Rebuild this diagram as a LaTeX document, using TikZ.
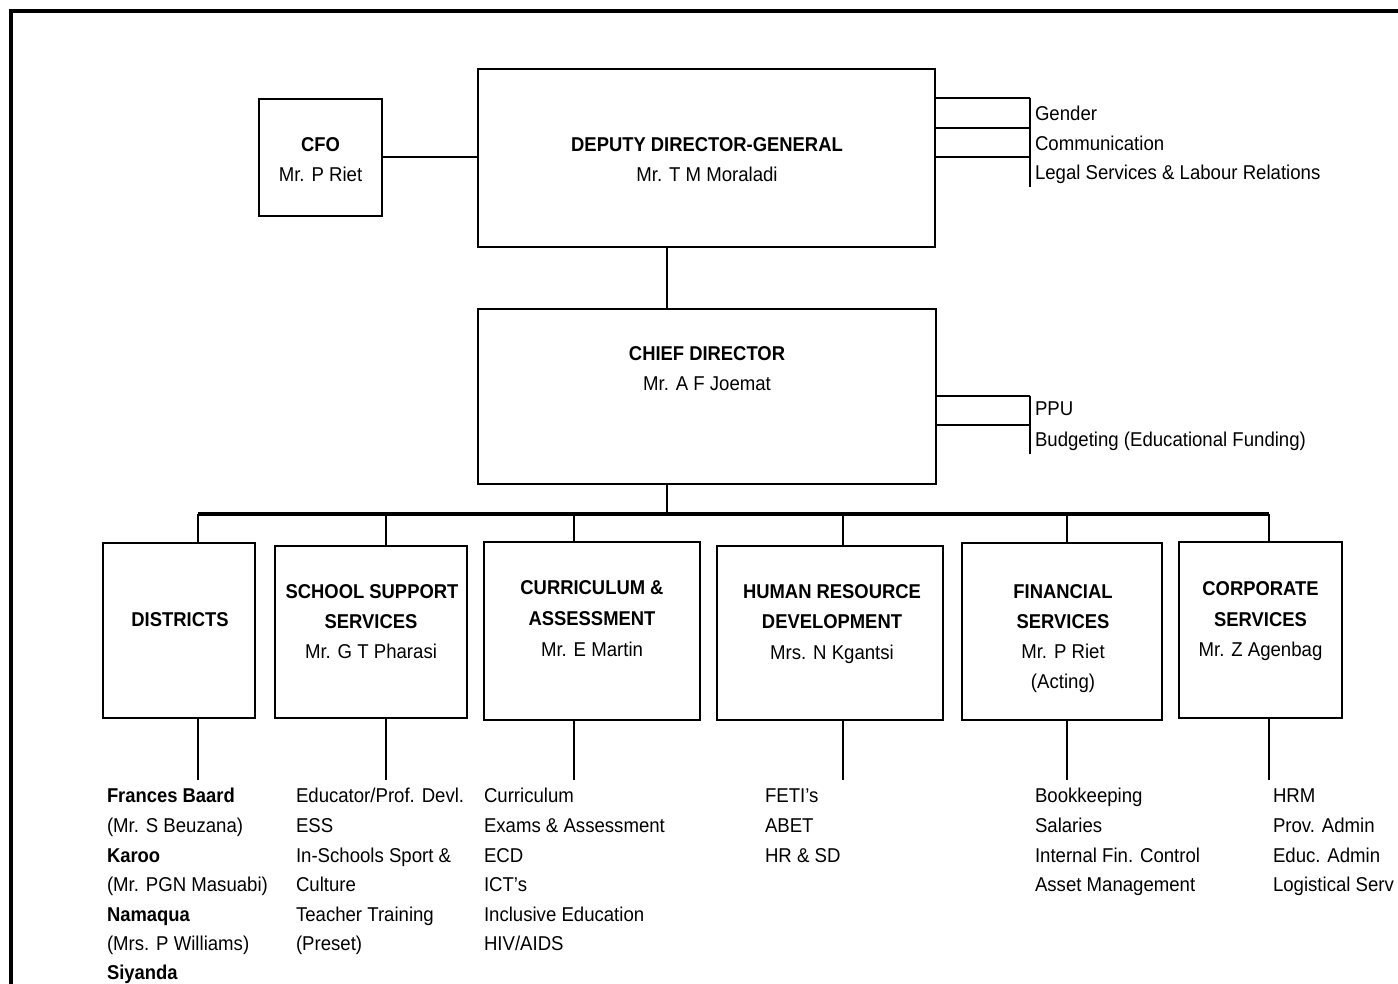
\documentclass[tikz,border=0pt]{standalone}
\usepackage{fontspec}
\setmainfont{Liberation Sans}[FakeStretch=0.93, BoldFeatures={FakeStretch=0.92}]
\begin{document}
\begin{tikzpicture}[x=1pt,y=-1pt,
  every node/.style={font=\fontsize{20}{29.6}\selectfont, inner sep=0pt, outer sep=0pt},
  box/.style={draw, line width=1.3pt, fill=none},
  conn/.style={line width=2pt},
  bus/.style={line width=3.5pt},
  brk/.style={line width=2.8pt},
  frame/.style={line width=4pt},
  ltxt/.style={anchor=base west},
  ctxt/.style={anchor=base},
  btxt/.style={anchor=base, font=\fontsize{20}{29.6}\selectfont\bfseries}]
\useasboundingbox (0,0) rectangle (1398,984);
% frame
\coordinate (ftl) at (10.5,11);
\coordinate (ftr) at (1398,11);
\coordinate (fbl) at (10.5,984);
\draw[frame] (ftr) -- (ftl) -- (fbl);

% top boxes
\node[box, minimum width=123pt, minimum height=117pt] (cfo) at (320.5,157.5) {};
\node[box, minimum width=457pt, minimum height=178pt] (ddg) at (706.5,158) {};
\node[box, minimum width=458pt, minimum height=175pt] (cd) at (707,396.5) {};
\node[btxt] (cfoT) at (320.5,152) {CFO};
\node[ctxt] (cfoN) at (320.5,182) {Mr. P Riet};
\node[btxt] (ddgT) at (707,152) {DEPUTY DIRECTOR-GENERAL};
\node[ctxt] (ddgN) at (707,182) {Mr. T M Moraladi};
\node[btxt] (cdT) at (707,361) {CHIEF DIRECTOR};
\node[ctxt] (cdN) at (707,391) {Mr. A F Joemat};

\draw[conn] (cfo.east) -- (cfo.east -| ddg.west);

% DDG side items
\node[ltxt] (gen) at (1035,121) {Gender};
\node[ltxt] (com) at (1035,151) {Communication};
\node[ltxt] (leg) at (1035,180) {Legal Services \& Labour Relations};
\coordinate (b1) at (1030,98);
\coordinate (b2) at (1030,128);
\coordinate (b3) at (1030,157);
\coordinate (b4) at (1030,187);
\draw[brk] (b1 -| ddg.east) -- (b1);
\draw[brk] (b2 -| ddg.east) -- (b2);
\draw[brk] (b3 -| ddg.east) -- (b3);
\draw[brk] (b1) -- (b4);

% CD side items
\node[ltxt] (ppu) at (1035,415) {PPU};
\node[ltxt] (bud) at (1035,446) {Budgeting (Educational Funding)};
\coordinate (c1) at (1030,396);
\coordinate (c2) at (1030,425);
\coordinate (c3) at (1030,454);
\draw[brk] (c1 -| cd.east) -- (c1);
\draw[brk] (c2 -| cd.east) -- (c2);
\draw[brk] (c1) -- (c3);

% DDG to CD
\coordinate (v1) at (667,0);
\draw[conn] (v1 |- ddg.south) -- (v1 |- cd.north);

% divisions
\node[box, minimum width=152pt, minimum height=175pt] (dist) at (179,630.5) {};
\node[box, minimum width=192pt, minimum height=172pt] (sss) at (371,632) {};
\node[box, minimum width=216pt, minimum height=178pt] (curr) at (592,631) {};
\node[box, minimum width=226pt, minimum height=174pt] (hrd) at (830,633) {};
\node[box, minimum width=200pt, minimum height=177pt] (fin) at (1062,631.5) {};
\node[box, minimum width=163pt, minimum height=176pt] (corp) at (1260.5,630) {};

\node[btxt] (distT) at (180,626) {DISTRICTS};
\node[btxt] (sssT1) at (372,598) {SCHOOL SUPPORT};
\node[btxt] (sssT2) at (371,628) {SERVICES};
\node[ctxt] (sssN) at (371,658) {Mr. G T Pharasi};
\node[btxt] (currT1) at (592,594) {CURRICULUM \&};
\node[btxt] (currT2) at (592,625) {ASSESSMENT};
\node[ctxt] (currN) at (592,656) {Mr. E Martin};
\node[btxt] (hrdT1) at (832,598) {HUMAN RESOURCE};
\node[btxt] (hrdT2) at (832,628) {DEVELOPMENT};
\node[ctxt] (hrdN) at (832,659) {Mrs. N Kgantsi};
\node[btxt] (finT1) at (1063,598) {FINANCIAL};
\node[btxt] (finT2) at (1063,628) {SERVICES};
\node[ctxt] (finN) at (1063,658) {Mr. P Riet};
\node[ctxt] (finA) at (1063,688) {(Acting)};
\node[btxt] (corpT1) at (1260.5,595) {CORPORATE};
\node[btxt] (corpT2) at (1260.5,626) {SERVICES};
\node[ctxt] (corpN) at (1260.5,656) {Mr. Z Agenbag};

% bus
\coordinate (busC) at (667,514);
\coordinate (d1) at (198,514);
\coordinate (d2) at (386,514);
\coordinate (d3) at (574,514);
\coordinate (d4) at (843,514);
\coordinate (d5) at (1067,514);
\coordinate (d6) at (1269,514);
\draw[conn] (busC |- cd.south) -- (busC);
\draw[bus] (d1) -- (d6);
\draw[conn] (d1) -- (d1 |- dist.north);
\draw[conn] (d2) -- (d2 |- sss.north);
\draw[conn] (d3) -- (d3 |- curr.north);
\draw[conn] (d4) -- (d4 |- hrd.north);
\draw[conn] (d5) -- (d5 |- fin.north);
\draw[conn] (d6) -- (d6 |- corp.north);

% lower drops
\coordinate (e1) at (198,780);
\coordinate (e2) at (386,780);
\coordinate (e3) at (574,780);
\coordinate (e4) at (843,780);
\coordinate (e5) at (1067,780);
\coordinate (e6) at (1269,780);
\draw[conn] (e1 |- dist.south) -- (e1);
\draw[conn] (e2 |- sss.south) -- (e2);
\draw[conn] (e3 |- curr.south) -- (e3);
\draw[conn] (e4 |- hrd.south) -- (e4);
\draw[conn] (e5 |- fin.south) -- (e5);
\draw[conn] (e6 |- corp.south) -- (e6);

% lists
\node[ltxt, font=\fontsize{20}{29.6}\selectfont\bfseries] (l11) at (107,802) {Frances Baard};
\node[ltxt] (l12) at (107,832) {(Mr. S Beuzana)};
\node[ltxt, font=\fontsize{20}{29.6}\selectfont\bfseries] (l13) at (107,862) {Karoo};
\node[ltxt] (l14) at (107,891) {(Mr. PGN Masuabi)};
\node[ltxt, font=\fontsize{20}{29.6}\selectfont\bfseries] (l15) at (107,921) {Namaqua};
\node[ltxt] (l16) at (107,950) {(Mrs. P Williams)};
\node[ltxt, font=\fontsize{20}{29.6}\selectfont\bfseries] (l17) at (107,979) {Siyanda};

\node[ltxt] (l21) at (296,802) {Educator/Prof. Devl.};
\node[ltxt] (l22) at (296,832) {ESS};
\node[ltxt] (l23) at (296,862) {In-Schools Sport \&};
\node[ltxt] (l24) at (296,891) {Culture};
\node[ltxt] (l25) at (296,921) {Teacher Training};
\node[ltxt] (l26) at (296,950) {(Preset)};

\node[ltxt] (l31) at (484,802) {Curriculum};
\node[ltxt] (l32) at (484,832) {Exams \& Assessment};
\node[ltxt] (l33) at (484,862) {ECD};
\node[ltxt] (l34) at (484,891) {ICT's};
\node[ltxt] (l35) at (484,921) {Inclusive Education};
\node[ltxt] (l36) at (484,950) {HIV/AIDS};

\node[ltxt] (l41) at (765,802) {FETI's};
\node[ltxt] (l42) at (765,832) {ABET};
\node[ltxt] (l43) at (765,862) {HR \& SD};

\node[ltxt] (l51) at (1035,802) {Bookkeeping};
\node[ltxt] (l52) at (1035,832) {Salaries};
\node[ltxt] (l53) at (1035,862) {Internal Fin. Control};
\node[ltxt] (l54) at (1035,891) {Asset Management};

\node[ltxt] (l61) at (1273,802) {HRM};
\node[ltxt] (l62) at (1273,832) {Prov. Admin};
\node[ltxt] (l63) at (1273,862) {Educ. Admin};
\node[ltxt] (l64) at (1273,891) {Logistical Serv};
\end{tikzpicture}
\end{document}
